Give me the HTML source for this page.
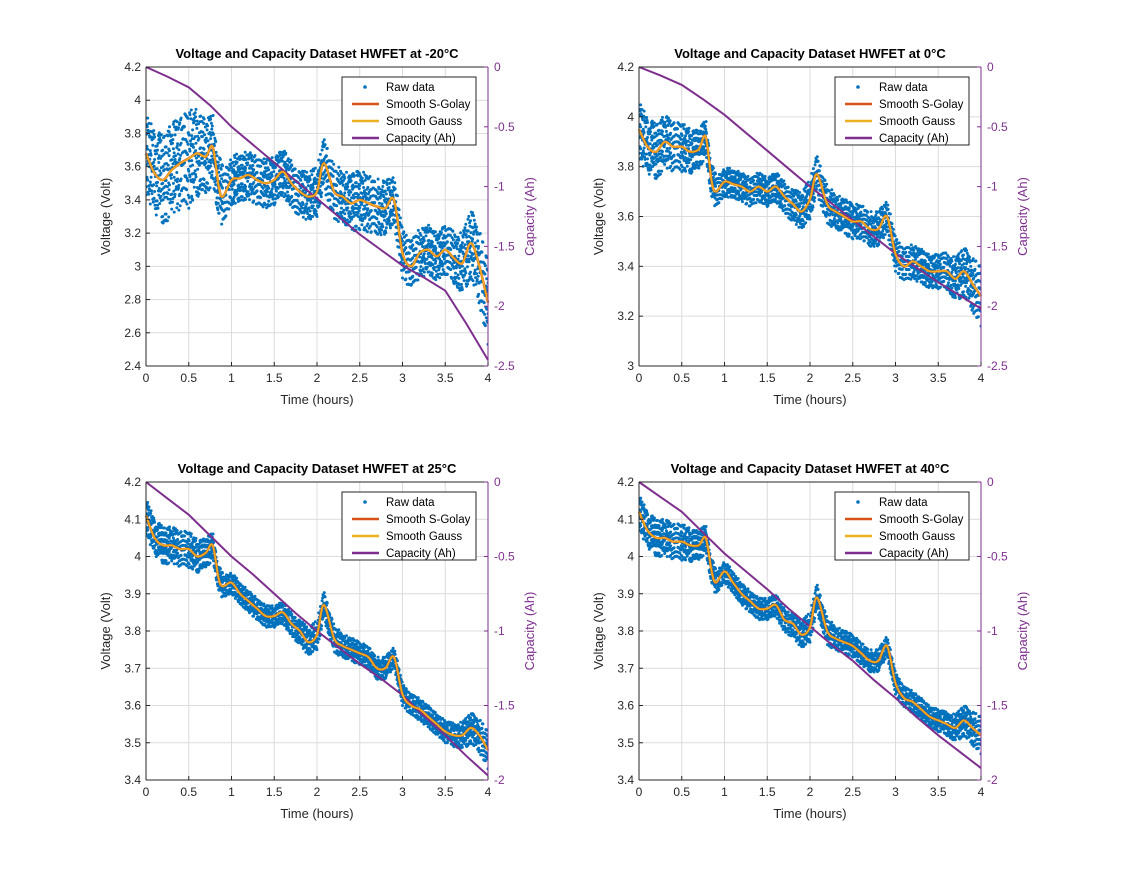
<!DOCTYPE html>
<html><head><meta charset="utf-8"><style>
body{margin:0;background:#fff}
svg{font-family:"Liberation Sans",Arial,sans-serif}
</style></head><body>
<svg id="fig" width="1121" height="876" viewBox="0 0 1121 876" xmlns="http://www.w3.org/2000/svg">
<rect width="1121" height="876" fill="#fff"/>
</svg>
<script>
const times=[0,0.1,0.2,0.3,0.4,0.5,0.6,0.7,0.78,0.85,0.9,1.0,1.1,1.2,1.3,1.4,1.5,1.6,1.7,1.8,1.9,2.0,2.08,2.2,2.3,2.4,2.5,2.6,2.7,2.8,2.9,3.0,3.1,3.2,3.3,3.4,3.5,3.6,3.7,3.8,3.9,4.0];
const capTimes=[0,0.25,0.5,0.75,1,1.25,1.5,1.75,2,2.25,2.5,2.75,3,3.25,3.5,3.75,4];
const spTimes=[0,0.5,1,1.5,2,2.5,3,3.5,4];
const xTicks=[0,0.5,1,1.5,2,2.5,3,3.5,4];
const xTickLabels=["0","0.5","1","1.5","2","2.5","3","3.5","4"];
const titles=["Voltage and Capacity Dataset HWFET at -20°C","Voltage and Capacity Dataset HWFET at 0°C","Voltage and Capacity Dataset HWFET at 25°C","Voltage and Capacity Dataset HWFET at 40°C"];
const smoothM20=[3.68,3.56,3.52,3.58,3.62,3.65,3.68,3.66,3.72,3.48,3.42,3.52,3.53,3.55,3.52,3.50,3.52,3.57,3.50,3.45,3.42,3.45,3.62,3.45,3.42,3.38,3.40,3.38,3.36,3.35,3.40,3.08,3.0,3.08,3.10,3.06,3.10,3.05,3.02,3.14,3.0,2.78];
const smooth0=[3.95,3.88,3.86,3.9,3.88,3.88,3.86,3.87,3.92,3.74,3.70,3.74,3.73,3.72,3.70,3.72,3.70,3.72,3.68,3.65,3.62,3.67,3.77,3.65,3.62,3.60,3.58,3.58,3.55,3.55,3.60,3.45,3.40,3.42,3.40,3.38,3.38,3.38,3.35,3.38,3.33,3.28];
const smooth25=[4.11,4.05,4.03,4.03,4.02,4.02,4.0,4.01,4.03,3.94,3.92,3.93,3.90,3.88,3.86,3.84,3.84,3.85,3.82,3.80,3.77,3.79,3.87,3.78,3.76,3.75,3.74,3.73,3.70,3.70,3.73,3.63,3.60,3.59,3.57,3.55,3.53,3.52,3.52,3.54,3.52,3.48];
const smooth40=[4.12,4.07,4.05,4.05,4.04,4.04,4.03,4.03,4.05,3.96,3.93,3.96,3.93,3.90,3.88,3.86,3.86,3.87,3.83,3.82,3.79,3.81,3.89,3.80,3.78,3.77,3.76,3.74,3.72,3.72,3.76,3.66,3.62,3.61,3.59,3.57,3.56,3.55,3.54,3.56,3.54,3.52];
const spreadM20=[0.25,0.3,0.15,0.15,0.15,0.18,0.15,0.15,0.25];
const spread0=[0.12,0.1,0.06,0.06,0.08,0.07,0.07,0.07,0.12];
const spread25=[0.05,0.05,0.03,0.03,0.04,0.03,0.03,0.03,0.05];
const spread40=[0.05,0.05,0.03,0.03,0.04,0.03,0.03,0.03,0.05];
const capM20=[0,-0.08,-0.17,-0.32,-0.5,-0.65,-0.8,-0.95,-1.1,-1.25,-1.4,-1.53,-1.66,-1.76,-1.87,-2.15,-2.45];
const cap0=[0,-0.07,-0.15,-0.27,-0.4,-0.55,-0.7,-0.85,-1.0,-1.14,-1.28,-1.42,-1.56,-1.68,-1.8,-1.91,-2.02];
const cap25=[0,-0.11,-0.22,-0.36,-0.5,-0.62,-0.75,-0.88,-1.0,-1.11,-1.22,-1.32,-1.43,-1.57,-1.7,-1.84,-1.97];
const cap40=[0,-0.1,-0.2,-0.34,-0.48,-0.6,-0.72,-0.85,-0.97,-1.09,-1.2,-1.33,-1.45,-1.58,-1.7,-1.81,-1.92];
const yTicksTop1=[2.4,2.6,2.8,3,3.2,3.4,3.6,3.8,4,4.2];
const yTicksTop2=[3,3.2,3.4,3.6,3.8,4,4.2];
const yTicksBot=[3.4,3.5,3.6,3.7,3.8,3.9,4,4.1,4.2];
const rTicksTop=[0,-0.5,-1,-1.5,-2,-2.5];
const rTicksBot=[0,-0.5,-1,-1.5,-2];

const NS="http://www.w3.org/2000/svg";
const fig=document.getElementById('fig');
function mk(tag,attrs,parent){const e=document.createElementNS(NS,tag);for(const k in attrs)e.setAttribute(k,attrs[k]);(parent||fig).appendChild(e);return e;}
function interp(xs,ys,x){for(let i=0;i<xs.length-1;i++){if(x<=xs[i+1]){const f=(x-xs[i])/(xs[i+1]-xs[i]);return ys[i]+f*(ys[i+1]-ys[i]);}}return ys[ys.length-1];}
function fmt(v){return (Math.round(v*10)/10).toString();}
function smoothPath(pts){let d='M'+pts[0][0].toFixed(1)+','+pts[0][1].toFixed(1);
 for(let i=0;i<pts.length-1;i++){const p0=pts[Math.max(0,i-1)],p1=pts[i],p2=pts[i+1],p3=pts[Math.min(pts.length-1,i+2)];
  const c1=[p1[0]+(p2[0]-p0[0])/6,p1[1]+(p2[1]-p0[1])/6],c2=[p2[0]-(p3[0]-p1[0])/6,p2[1]-(p3[1]-p1[1])/6];
  d+='C'+c1[0].toFixed(1)+','+c1[1].toFixed(1)+' '+c2[0].toFixed(1)+','+c2[1].toFixed(1)+' '+p2[0].toFixed(1)+','+p2[1].toFixed(1);}
 return d;}

const panels=[
 {L:146,R:488,T:67,B:366,ymin:2.4,ymax:4.2,yt:yTicksTop1,rmin:-2.5,rt:rTicksTop,sm:smoothM20,sp:spreadM20,cap:capM20,title:titles[0]},
 {L:639,R:981,T:67,B:366,ymin:3,ymax:4.2,yt:yTicksTop2,rmin:-2.5,rt:rTicksTop,sm:smooth0,sp:spread0,cap:cap0,title:titles[1]},
 {L:146,R:488,T:482,B:780,ymin:3.4,ymax:4.2,yt:yTicksBot,rmin:-2,rt:rTicksBot,sm:smooth25,sp:spread25,cap:cap25,title:titles[2]},
 {L:639,R:981,T:482,B:780,ymin:3.4,ymax:4.2,yt:yTicksBot,rmin:-2,rt:rTicksBot,sm:smooth40,sp:spread40,cap:cap40,title:titles[3]}
];
const blue="#0072BD",orange="#D95319",gold="#EDB120",purple="#7E2F8E";
panels.forEach((p,pi)=>{
 const g=mk('g',{});
 
 
 const xs=t=>p.L+(t/4)*(p.R-p.L);
 const ys=v=>p.B-(v-p.ymin)/(p.ymax-p.ymin)*(p.B-p.T);
 const rs=v=>p.T+(v/p.rmin)*(p.B-p.T);
 const grid=mk('g',{stroke:'#dcdcdc','stroke-width':1},g);
 
 xTicks.forEach(t=>mk('line',{x1:xs(t),x2:xs(t),y1:p.T,y2:p.B},grid));
 p.yt.forEach(v=>mk('line',{x1:p.L,x2:p.R,y1:ys(v),y2:ys(v)},grid));
 const raw=mk('g',{fill:blue},g);
 
 const svgClip=mk('clipPath',{id:'c'+pi},g);mk('rect',{x:p.L,y:p.T,width:p.R-p.L,height:p.B-p.T},svgClip);
 raw.setAttribute('clip-path','url(#c'+pi+')');
 for(let j=0;j<=800;j++){
  const t=j*4/800;const c=interp(times,p.sm,t);const s=interp(spTimes,p.sp,t);
  for(let k=0;k<3;k++){const f=((j*j*0.0618+j*0.31+k*0.37)%1)*2-1;
   mk('circle',{cx:xs(t).toFixed(1),cy:ys(c+f*s).toFixed(1),r:1.5},raw);}
 }
 const d=capTimes.map((t,i)=>(i?'L':'M')+xs(t).toFixed(1)+','+rs(p.cap[i]).toFixed(1)).join('');
 const cp=mk('path',{d:d,fill:'none',stroke:purple,'stroke-width':2},g);
 
 const sd=smoothPath(times.map((t,i)=>[xs(t),ys(p.sm[i])]));
 const s1=mk('path',{d:sd,fill:'none',stroke:orange,'stroke-width':2.5,'stroke-linejoin':'round'},g);
 
 const s2=mk('path',{d:sd,fill:'none',stroke:gold,'stroke-width':1.6,'stroke-linejoin':'round'},g);
 
 mk('line',{x1:p.L,x2:p.R,y1:p.T,y2:p.T,stroke:'#262626'},g);
 mk('line',{x1:p.L,x2:p.R,y1:p.B,y2:p.B,stroke:'#262626'},g);
 mk('line',{x1:p.L,x2:p.L,y1:p.T,y2:p.B,stroke:'#262626'},g);
 mk('line',{x1:p.R,x2:p.R,y1:p.T,y2:p.B,stroke:purple},g);
 xTicks.forEach((t,i)=>{mk('line',{x1:xs(t),x2:xs(t),y1:p.B,y2:p.B-4,stroke:'#262626'},g);
  const tx=mk('text',{x:xs(t),y:p.B+16,'font-size':12,'text-anchor':'middle',fill:'#262626'},g);tx.textContent=xTickLabels[i];
  });
 p.yt.forEach(v=>{mk('line',{x1:p.L,x2:p.L+4,y1:ys(v),y2:ys(v),stroke:'#262626'},g);
  const tx=mk('text',{x:p.L-5,y:ys(v)+4,'font-size':12,'text-anchor':'end',fill:'#262626'},g);tx.textContent=fmt(v);
  });
 p.rt.forEach(v=>{mk('line',{x1:p.R,x2:p.R-4,y1:rs(v),y2:rs(v),stroke:purple},g);
  const tx=mk('text',{x:p.R+6,y:rs(v)+4,'font-size':12,fill:purple},g);tx.textContent=v===0?'0':fmt(v);
  });
 const ti=mk('text',{x:(p.L+p.R)/2,y:p.T-9,'font-size':13,'font-weight':'bold','text-anchor':'middle',fill:'#000'},g);ti.textContent=p.title;
 
 const xl=mk('text',{x:(p.L+p.R)/2,y:p.B+38,'font-size':13,'text-anchor':'middle',fill:'#262626'},g);xl.textContent='Time (hours)';
 
 const cy=(p.T+p.B)/2;
 const yl=mk('text',{x:p.L-36,y:cy,'font-size':13,'text-anchor':'middle',fill:'#262626',transform:`rotate(-90 ${p.L-36} ${cy})`},g);yl.textContent='Voltage (Volt)';
 
 const rl=mk('text',{x:p.R+46,y:cy,'font-size':13,'text-anchor':'middle',fill:purple,transform:`rotate(-90 ${p.R+46} ${cy})`},g);rl.textContent='Capacity (Ah)';
 
 const lg=mk('g',{},g);
 
 const lx=p.R-146,ly=p.T+10;
 mk('rect',{x:lx,y:ly,width:134,height:68,fill:'#fff',stroke:'#262626'},lg);
 const items=[['Raw data',blue,'dot'],['Smooth S-Golay',orange,'line'],['Smooth Gauss',gold,'line'],['Capacity (Ah)',purple,'line']];
 items.forEach((it,i)=>{const yy=ly+10+i*17;
  if(it[2]==='dot')mk('circle',{cx:lx+23,cy:yy,r:1.8,fill:it[1]},lg);
  else mk('line',{x1:lx+10,x2:lx+37,y1:yy,y2:yy,stroke:it[1],'stroke-width':2.5},lg);
  const tx=mk('text',{x:lx+44,y:yy+4,'font-size':11.5,fill:'#000'},lg);tx.textContent=it[0];
  });
});
</script>
</body></html>
